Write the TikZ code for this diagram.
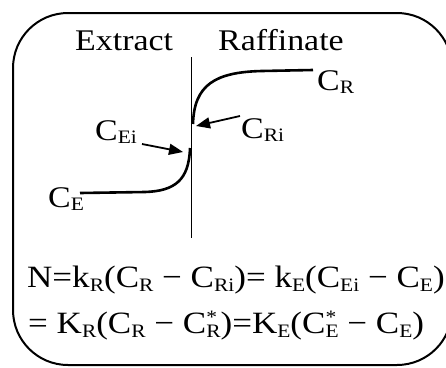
\documentclass[tikz,border=0pt]{standalone}
\usepackage{fontspec}
\setmainfont{Liberation Serif}
\usetikzlibrary{arrows.meta}
\newcommand\sbs[1]{\raisebox{-0.13em}{\fontsize{19}{20}\selectfont #1}}
\newcommand\stk[1]{\makebox[0pt][l]{\raisebox{0.3em}{\fontsize{19}{20}\selectfont *}}\sbs{#1}}
\newcommand\hs[1]{\scalebox{1.13}[1]{#1}}
\begin{document}
\begin{tikzpicture}[x=1pt,y=-1pt,
  lbl/.style={inner sep=0pt,anchor=base west,font=\fontsize{30}{36}\selectfont},
  eqn/.style={inner sep=0pt,anchor=base west,font=\fontsize{31}{36}\selectfont},
  frame/.style={line width=2pt,rounded corners=55pt},
  iface/.style={line width=1.9pt},
  prof/.style={line width=2.6pt},
  ptr/.style={line width=1.8pt,-{Triangle[length=14pt,width=11pt]}}]
\useasboundingbox (0,0) rectangle (446,367);
\draw[frame] (13,13) rectangle (452,365);
% labels
\node[lbl] (ext) at (75,50) {\hs{Extract}};
\node[lbl] (raf) at (218,50) {\hs{Raffinate}};
\node[lbl] (cr) at (317,90) {\hs{C\sbs{R}}};
\node[lbl] (cri) at (241,138) {\hs{C\sbs{Ri}}};
\node[lbl] (cei) at (95,140) {\hs{C\sbs{Ei}}};
\node[lbl] (ce) at (48,207) {\hs{C\sbs{E}}};
% interface
\coordinate (itop) at (191.5,57);
\coordinate (ibot) at (191.5,238);
\draw[iface] (itop) -- (ibot);
% profiles
\coordinate (r0) at (193,124);
\coordinate (r1) at (313,70);
\draw[prof] (r0) .. controls (194,85) and (215,72) .. (262,71) -- (r1);
\coordinate (e0) at (190,148);
\coordinate (e1) at (80,193);
\draw[prof] (e0) .. controls (189,180) and (175,191) .. (145,192) -- (e1);
% arrows
\coordinate (crs) at (240,116);
\coordinate (crt) at (196,126);
\draw[ptr] (crs) -- (crt);
\coordinate (ces) at (142,144);
\coordinate (cet) at (183,152);
\draw[ptr] (ces) -- (cet);
% equations
\node[eqn] (eq1) at (27,287) {\hs{N=k\sbs{R}(C\sbs{R} − C\sbs{Ri})= k\sbs{E}(C\sbs{Ei} − C\sbs{E})}};
\node[eqn] (eq2) at (28,333) {\hs{= K\sbs{R}(C\sbs{R} − C\stk{R})=K\sbs{E}(C\stk{E} − C\sbs{E})}};
\end{tikzpicture}
\end{document}
